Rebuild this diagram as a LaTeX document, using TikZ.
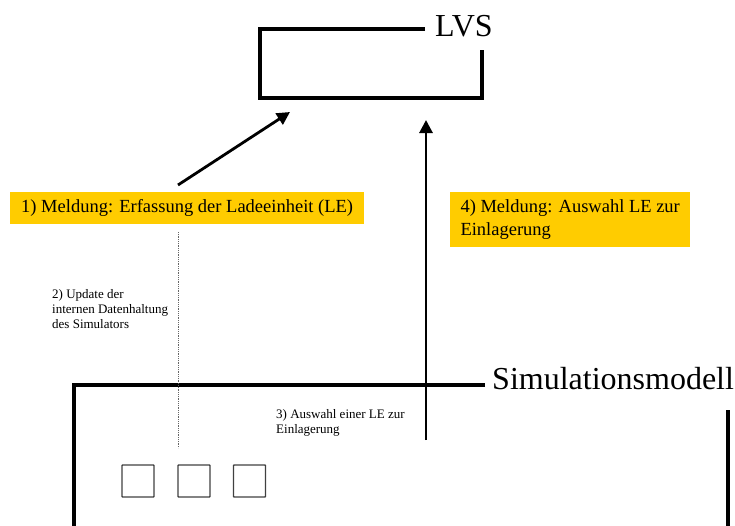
\documentclass[tikz,border=0pt]{standalone}
\usepackage{fontspec}
\setmainfont{Liberation Serif}
\usetikzlibrary{arrows.meta}
\definecolor{note}{HTML}{FFCC00}
\begin{document}
\begin{tikzpicture}[x=1pt,y=-1pt,
  frame/.style={line width=3.8pt},
  title/.style={font=\fontsize{32}{36}\selectfont, inner sep=0pt, anchor=base west},
  msg/.style={fill=note, font=\fontsize{18.5}{23}\selectfont, align=left, anchor=north west, inner ysep=0pt},
  small/.style={font=\fontsize{13}{15}\selectfont, align=left, anchor=base west, inner sep=0pt},
  arrow/.style={line width=2.8pt, -{Triangle[length=13pt,width=13pt]}},
  lebox/.style={draw=black!75, line width=1.3pt, minimum size=32pt, inner sep=0pt, rounded corners=0.6pt},
  trace/.style={draw=black!60, line width=0.8pt, dash pattern=on 0.9pt off 0.9pt}
]
\useasboundingbox (0,0) rectangle (735,525);

% LVS frame
\coordinate (lvsA) at (425,29);
\coordinate (lvsB) at (260,29);
\coordinate (lvsC) at (260,98);
\coordinate (lvsD) at (482,98);
\coordinate (lvsE) at (482,50);
\draw[frame] (lvsA) -- (lvsB) -- (lvsC) -- (lvsD) -- (lvsE);
\node[title] (lvs) at (435,36) {LVS};

% Simulationsmodell frame
\coordinate (simA) at (485,385);
\coordinate (simB) at (74,385);
\coordinate (simC) at (74,528);
\coordinate (simD) at (728,410);
\coordinate (simE) at (728,528);
\draw[frame] (simA) -- (simB) -- (simC);
\draw[frame] (simD) -- (simE);
\node[title] (sim) at (492,389) {Simulationsmodell};

% messages
\node[msg, inner xsep=11pt, minimum width=353pt, minimum height=32pt] (m1) at (10,192)
  {1) Meldung: Erfassung der Ladeeinheit (LE)};
\node[msg, inner xsep=10pt, minimum width=240pt, minimum height=55pt] (m4) at (450,192)
  {4) Meldung: Auswahl LE zur\\Einlagerung};

% small labels
\node[small] (t2) at (52,328) {2) Update der\\internen Datenhaltung\\des Simulators};
\node[small] (t3) at (276,433) {3) Auswahl einer LE zur\\Einlagerung};

% arrows
\coordinate (a1s) at (178,185);
\coordinate (a1e) at (290,112);
\draw[arrow] (a1s) -- (a1e);
\coordinate (a4s) at (426,440);
\coordinate (a4e) at (426,120);
\draw[arrow] (a4s) -- (a4e);

% dotted trace
\coordinate (d1) at (178,232);
\coordinate (d2) at (178,448);
\draw[trace] (d1) -- (d2);

% load units
\node[lebox] (le1) at (138,481) {};
\node[lebox] (le2) at (194,481) {};
\node[lebox] (le3) at (249.5,481) {};
\end{tikzpicture}
\end{document}
